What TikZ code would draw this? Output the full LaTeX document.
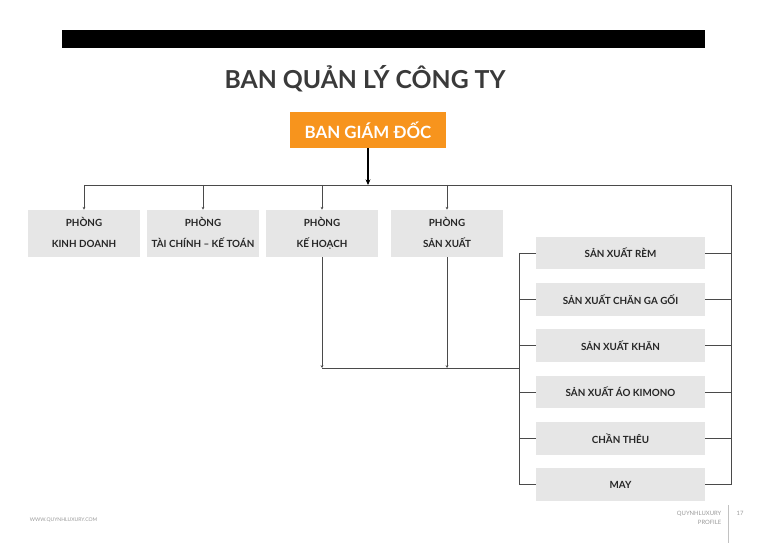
\documentclass[tikz,border=0pt]{standalone}
\usepackage{fontspec}
\setmainfont{Lato}
\usepackage{xcolor}
\usepackage{tikz}
\usetikzlibrary{positioning,calc,arrows.meta}

\definecolor{bgdorange}{HTML}{F7941D}
\definecolor{boxgray}{HTML}{E6E6E6}
\definecolor{linegray}{HTML}{4A4A4A}
\definecolor{titlegray}{HTML}{3A3A3A}
\definecolor{footgray}{HTML}{9A9A9A}

\newcommand{\phong}[1]{PHÒNG\\#1\vphantom{Ạ}}

\tikzset{
    phongbox/.style={fill=boxgray, minimum width=2.8cm, minimum height=1.175cm,
        align=center, font=\bfseries\fontsize{7}{15}\selectfont, text=black!85},
    xuongbox/.style={fill=boxgray, minimum width=4.225cm, minimum height=0.8cm,
        font=\bfseries\fontsize{7}{8}\selectfont, text=black!85},
    wire/.style={draw=linegray, line width=0.5pt},
    drop/.style={wire, -{Stealth[length=2pt,width=2pt]}}
}

\begin{document}
\begin{tikzpicture}[x=0.025cm, y=-0.025cm]
    \useasboundingbox (0,0) rectangle (768,543);

    % Header
    \fill[black] (62,30) rectangle (705,48);
    \node[font=\bfseries\fontsize{17.6}{20}\selectfont, text=titlegray] (title) at (365,79) {BAN QUẢN LÝ CÔNG TY};

    % Ban giam doc
    \node[fill=bgdorange, minimum width=3.9cm, minimum height=0.9cm, text=white,
        font=\bfseries\fontsize{12}{14}\selectfont] (bgd) at (368,130) {BAN GIÁM ĐỐC};

    % Phong ban
    \node[phongbox] (pkd) at (84,233.5) {\phong{KINH DOANH}};
    \node[phongbox] (ptc) at (203,233.5) {\phong{TÀI CHÍNH – KẾ TOÁN}};
    \node[phongbox] (pkh) at (322,233.5) {\phong{KẾ HOẠCH}};
    \node[phongbox] (psx) at (447,233.5) {\phong{SẢN XUẤT}};

    % San xuat
    \node[xuongbox] (rem) at (620.5,253) {SẢN XUẤT RÈM};
    \node[xuongbox] (chan) at (620.5,299.5) {SẢN XUẤT CHĂN GA GỐI};
    \node[xuongbox] (khan) at (620.5,345.5) {SẢN XUẤT KHĂN};
    \node[xuongbox] (kimono) at (620.5,392) {SẢN XUẤT ÁO KIMONO};
    \node[xuongbox] (theu) at (620.5,438.5) {CHẦN THÊU};
    \node[xuongbox] (may) at (620.5,484.5) {MAY};

    % Connectors
    \coordinate (busL) at (84,185);
    \coordinate (busR) at (731,185);
    \coordinate (join) at (519,368);
    \draw[wire] (busL) -- (busR) -- (busR |- may.east);
    \draw[black, line width=1.1pt, -{Stealth[length=4pt,width=3.5pt]}] (bgd.south) -- (bgd.south |- busL);
    \foreach \p in {pkd,ptc,pkh,psx}
        \draw[drop] (\p.north |- busL) -- (\p.north);
    \draw[drop] (pkh.south) -- (pkh.south |- join);
    \draw[drop] (psx.south) -- (psx.south |- join);
    \draw[wire] (pkh.south |- join) -- (join);
    \draw[wire] (rem.west -| join) -- (may.west -| join);
    \foreach \x in {rem,chan,khan,kimono,theu,may} {
        \draw[wire] (\x.west) -- (\x.west -| join);
        \draw[wire] (\x.east) -- (\x.east -| busR);
    }

    % Footer
    \node[anchor=west, text=footgray, font=\fontsize{3.6}{4}\selectfont] (web) at (25,520) {WWW.QUYNHLUXURY.COM};
    \node[anchor=east, text=footgray, align=right, inner sep=1pt,
        font=\fontsize{4.2}{6.5}\selectfont] (brand) at (723,517.5) {QUYNHLUXURY\\PROFILE};
    \draw[footgray!60, line width=0.4pt] (728.5,505) -- (728.5,543);
    \node[anchor=west, text=footgray, inner sep=1pt, font=\fontsize{4.2}{5}\selectfont] (page) at (735,513) {17};
\end{tikzpicture}
\end{document}
